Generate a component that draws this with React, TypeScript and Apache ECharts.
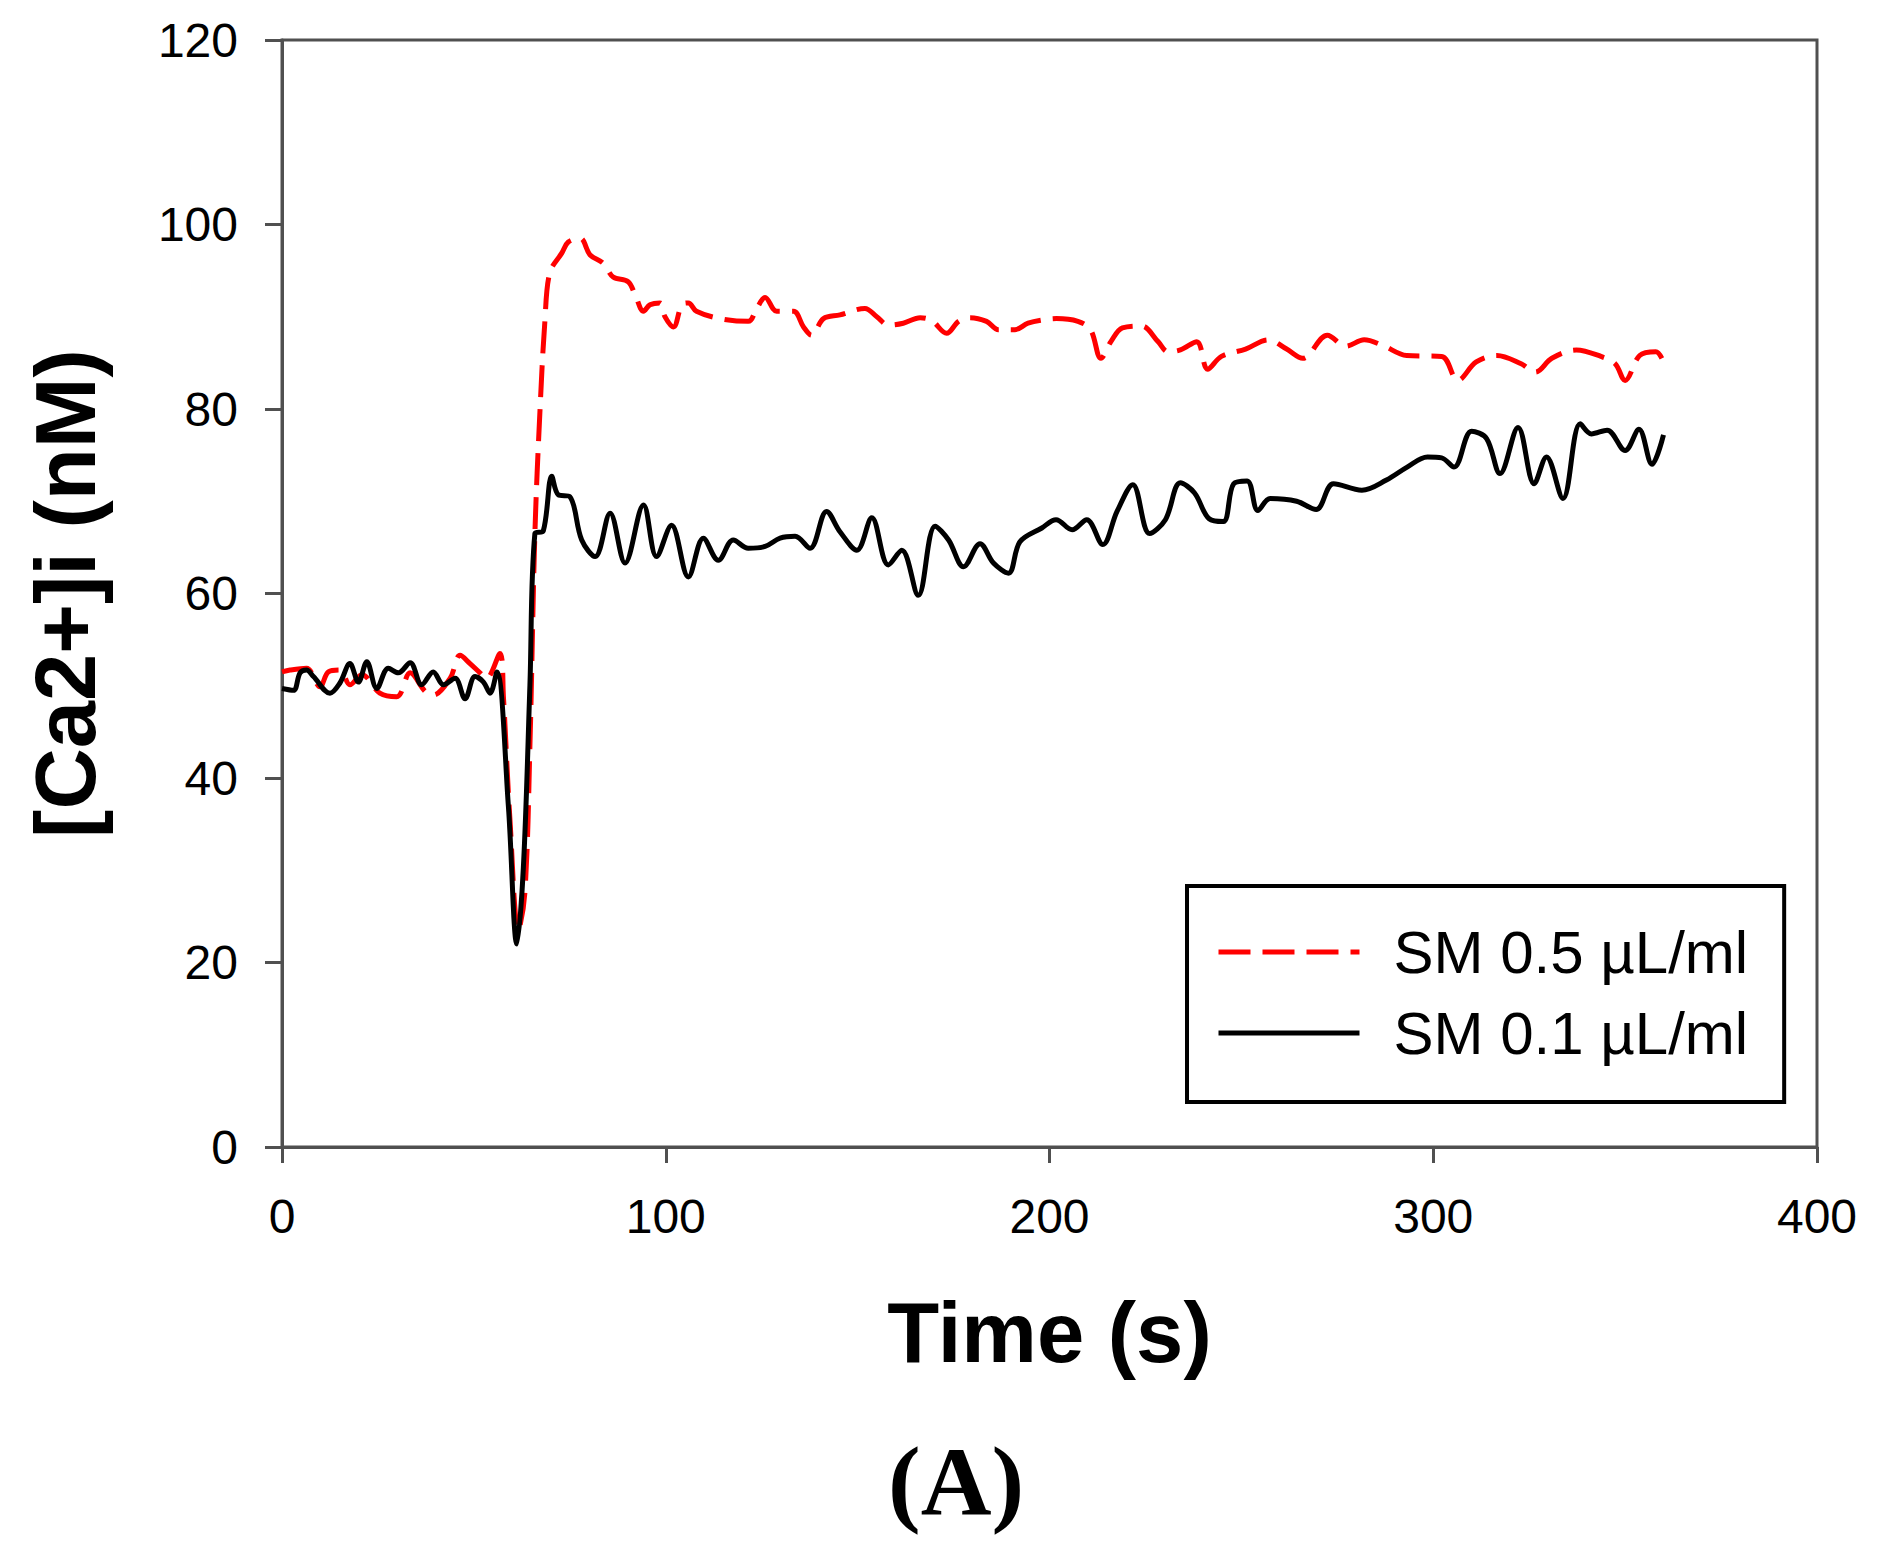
import React, { useEffect, useRef } from "react";
import * as echarts from "echarts";

// ---- Data ----
const xTicks = [0, 100, 200, 300, 400];
const yTicks = [0, 20, 40, 60, 80, 100, 120];

const seriesNames = ["SM 0.5 \u00b5L/ml", "SM 0.1 \u00b5L/ml"];

const time05 = [0, 2.1, 6.4, 9.9, 12.1, 15.1, 17.7, 20.8, 25.5, 29.9, 33.4, 37.3, 39.4, 43.8, 46.4, 49, 51.6, 53.3, 56.8, 57.7, 59.4, 61.6, 63.3, 64.6, 65.9, 67.2, 68.5, 69.8, 72.9, 74.6, 77.7, 80.3, 83.7, 86.3, 90.2, 92, 94.2, 95.9, 98.5, 99.8, 102, 104.2, 105.9, 108, 114.1, 121.5, 123.7, 125.9, 128.9, 133.3, 135.9, 138, 141.1, 145.4, 151.9, 155, 158, 161.9, 166.3, 169.3, 173.2, 176.3, 179.3, 183.6, 186.7, 191, 194.4, 199, 201.8, 207.4, 210.7, 213.4, 216, 219, 224, 228.3, 230.9, 234.1, 238.4, 241.2, 244.8, 251.1, 257, 261.8, 266, 272.4, 277.2, 282, 286.8, 293.1, 302.2, 306.4, 311.2, 316.6, 322.9, 326.6, 330.9, 337.3, 343.7, 347.4, 350, 353.8, 358, 360];
const ca05 = [51.5, 51.7, 51.9, 49.9, 51.5, 51.7, 50.1, 51.2, 49.2, 48.8, 51.4, 49.4, 49, 50.8, 53.3, 52.4, 51.4, 50.8, 53.5, 48.8, 35.5, 23.5, 27.6, 43.4, 66.5, 79.6, 89.5, 94.8, 96.9, 98.1, 98.5, 96.7, 95.8, 94.3, 93.8, 92.4, 90.6, 91.3, 91.5, 90, 88.9, 91.3, 91.5, 90.6, 89.8, 89.5, 90.9, 92.1, 90.6, 90.6, 88.9, 88, 89.8, 90.2, 90.9, 90, 89.1, 89.3, 89.9, 89.6, 88.2, 89.5, 89.9, 89.5, 88.6, 88.6, 89.3, 89.7, 89.8, 89.5, 88.6, 85.5, 87.3, 88.8, 89, 87.3, 86.2, 86.4, 87.3, 84.3, 85.7, 86.5, 87.5, 86.5, 85.5, 88, 86.8, 87.5, 86.9, 85.8, 85.7, 83.1, 85.1, 85.8, 84.9, 84, 85.5, 86.4, 85.7, 84.9, 83.1, 85.8, 86.2, 85.1];

const time01 = [0, 3, 4.7, 6.4, 8.2, 12.5, 15.1, 17.7, 19.9, 22.1, 24.7, 27.7, 30.3, 33.4, 36.4, 39.4, 42.1, 45.1, 47.7, 50.3, 52.5, 54.2, 56, 59, 61.2, 62.9, 64.6, 65.9, 68.1, 70.3, 72, 75, 78.1, 81.6, 85.5, 89.4, 94.2, 97.6, 101.5, 105.9, 109.8, 113.7, 117.6, 121.5, 125.9, 129.8, 133.7, 137.6, 141.9, 145.4, 149.8, 153.7, 158, 161.5, 165.8, 170.2, 173.7, 177.6, 181.9, 185.4, 189.3, 192.3, 198, 201.7, 205.9, 209.7, 213.9, 217.6, 221.7, 226.1, 230.2, 234.1, 237.8, 241.6, 245.3, 248, 251.5, 254.3, 257.5, 264.4, 269.5, 274, 281.4, 287.8, 293.2, 298.5, 302.2, 305.4, 310, 313.9, 317.4, 322.1, 326.3, 329.5, 333.8, 338.3, 341.2, 345.3, 350, 353.6, 357, 360];
const ca01 = [49.7, 49.5, 51.4, 51.7, 51, 49.2, 50.3, 52.4, 50.4, 52.6, 49.7, 51.9, 51.4, 52.5, 50.1, 51.5, 50.1, 50.8, 48.6, 51, 50.4, 49.2, 51.5, 36.9, 22, 30.3, 50, 66.5, 66.8, 72.7, 70.7, 70.5, 65.8, 64, 68.7, 63.3, 69.6, 64, 67.4, 61.8, 66, 63.6, 65.8, 64.9, 65.1, 66, 66.2, 64.9, 68.9, 66.7, 64.7, 68.2, 63.1, 64.7, 59.8, 67.3, 65.8, 62.9, 65.4, 63.3, 62.2, 65.6, 67.1, 68, 66.9, 68, 65.3, 68.9, 71.8, 66.5, 68, 72, 70.9, 68.1, 67.8, 71.9, 72.2, 69, 70.3, 70, 69.1, 71.9, 71.2, 72.3, 73.7, 74.8, 74.7, 73.7, 77.6, 76.8, 73, 78, 71.9, 74.8, 70.3, 78.4, 77.3, 77.7, 75.5, 77.8, 74, 77.2];

const SANS = '"Liberation Sans", Arial, Helvetica, sans-serif';
const SERIF = '"Liberation Serif", "Times New Roman", Times, serif';
const AXIS_COLOR = "#505050";
const RED_DASH = [32, 12];

export default function App() {
  const ref = useRef<HTMLDivElement>(null);

  useEffect(() => {
    if (!ref.current) return;
    const chart = echarts.init(ref.current, undefined, { renderer: "svg" });
    const data05 = time05.map((t, i) => [t, ca05[i]]);
    const data01 = time01.map((t, i) => [t, ca01[i]]);

    const option = {
      animation: false,
      backgroundColor: "#ffffff",
      title: {
        text: "(A)",
        left: 888,
        top: 1432,
        padding: 0,
        textStyle: { fontFamily: SERIF, fontWeight: "bold", fontSize: 98, color: "#000" },
      },
      grid: {
        left: 282,
        top: 40,
        right: 73,
        bottom: 403,
        show: true,
        borderColor: AXIS_COLOR,
        borderWidth: 3,
        backgroundColor: "transparent",
      },
      legend: {
        orient: "vertical",
        left: 1187,
        top: 886,
        padding: [36, 36, 39, 29],
        itemWidth: 141,
        itemHeight: 60,
        itemGap: 21,
        borderColor: "#000",
        borderWidth: 4,
        backgroundColor: "#fff",
        data: seriesNames,
        itemStyle: { opacity: 0 },
        lineStyle: { width: 5 },
        textStyle: {
          fontFamily: SANS,
          fontSize: 60,
          color: "#000",
          padding: [0, 0, 0, 29],
        },
      },
      xAxis: {
        type: "value",
        min: xTicks[0],
        max: xTicks[xTicks.length - 1],
        interval: 100,
        name: "Time (s)",
        nameLocation: "middle",
        nameGap: 143,
        nameTextStyle: { fontFamily: SANS, fontWeight: "bold", fontSize: 85, color: "#000" },
        axisLine: { show: true, onZero: false, lineStyle: { color: AXIS_COLOR, width: 3 } },
        axisTick: { show: true, inside: false, length: 16, lineStyle: { color: AXIS_COLOR, width: 3 } },
        axisLabel: { fontFamily: SANS, fontSize: 48, color: "#000", margin: 45 },
        splitLine: { show: false },
      },
      yAxis: {
        type: "value",
        min: yTicks[0],
        max: yTicks[yTicks.length - 1],
        interval: 20,
        name: "[Ca2+]i (nM)",
        nameLocation: "middle",
        nameRotate: 90,
        nameGap: 174,
        nameTextStyle: { fontFamily: SANS, fontWeight: "bold", fontSize: 85, color: "#000" },
        axisLine: { show: true, onZero: false, lineStyle: { color: AXIS_COLOR, width: 3 } },
        axisTick: { show: true, inside: false, length: 17, lineStyle: { color: AXIS_COLOR, width: 3 } },
        axisLabel: { fontFamily: SANS, fontSize: 48, color: "#000", margin: 44 },
        splitLine: { show: false },
      },
      series: [
        {
          name: seriesNames[0],
          type: "line",
          data: data05,
          symbol: "none",
          smooth: 0.35,
          lineStyle: { color: "#ff0000", width: 5, type: RED_DASH },
          itemStyle: { color: "#ff0000" },
          z: 2,
        },
        {
          name: seriesNames[1],
          type: "line",
          data: data01,
          symbol: "none",
          smooth: 0.35,
          lineStyle: { color: "#000000", width: 5, type: "solid" },
          itemStyle: { color: "#000000" },
          z: 3,
        },
      ],
    };

    chart.setOption(option as any);
    return () => chart.dispose();
  }, []);

  return (
    <div
      ref={ref}
      style={{ position: "absolute", left: 0, top: 0, width: 1890, height: 1550, background: "#fff" }}
    />
  );
}
